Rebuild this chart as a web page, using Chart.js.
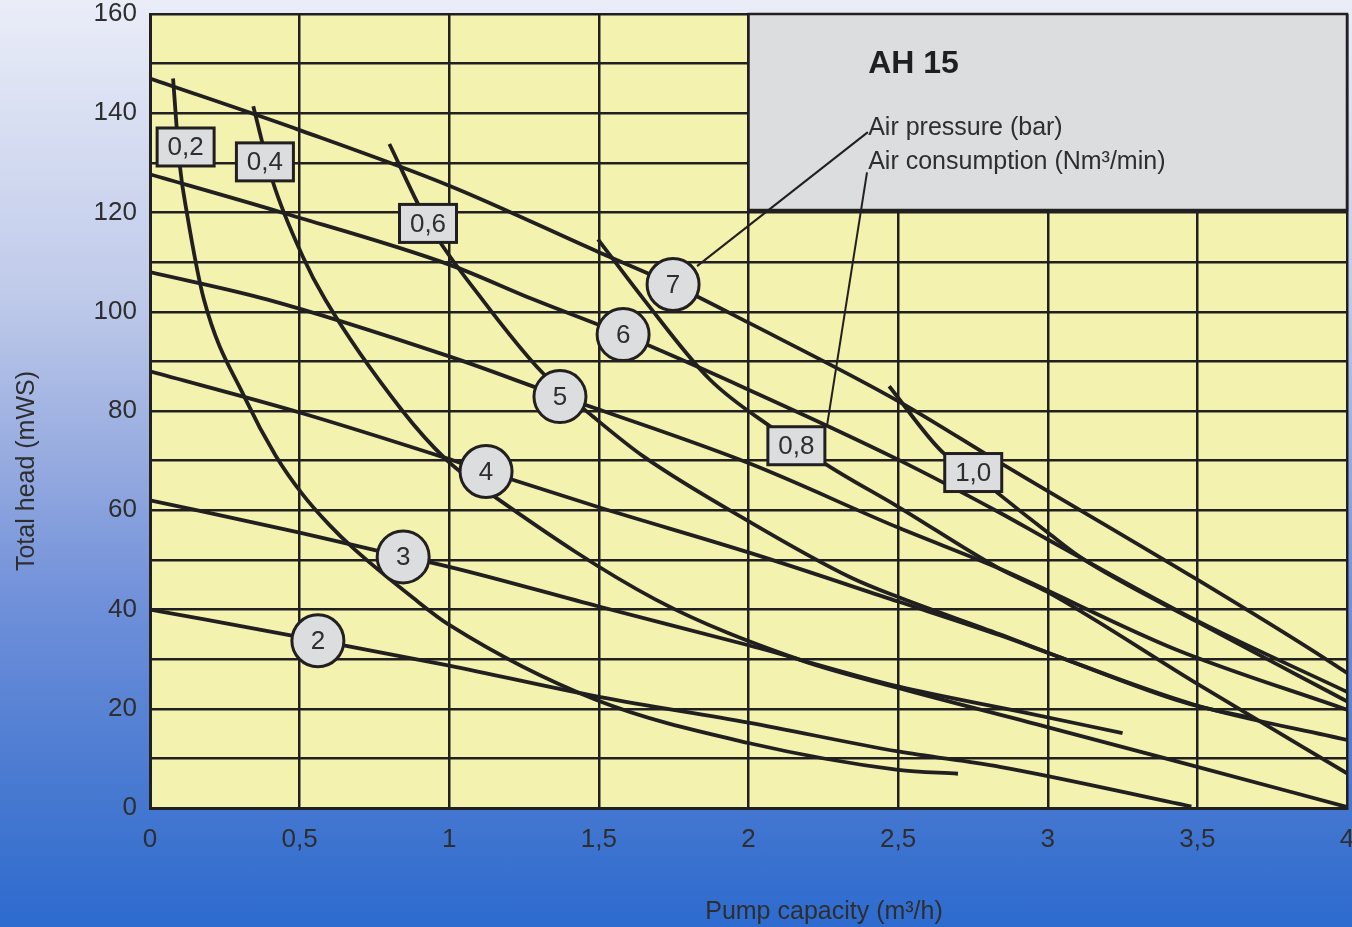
<!DOCTYPE html>
<html>
<head>
<meta charset="utf-8">
<title>AH 15 pump curves</title>
<script src="https://cdn.jsdelivr.net/npm/chart.js@4.4.0/dist/chart.umd.min.js"></script>
<style>
  html, body { margin: 0; padding: 0; }
  body {
    width: 1352px; height: 927px; overflow: hidden;
    background: linear-gradient(to bottom, #eaedf8 0%, #bfcaea 32%, #95aadf 50%, #7090da 65%, #4477d0 87%, #2d6bcf 100%);
  }
  .wrap { position: relative; width: 1352px; height: 927px; }
</style>
</head>
<body>
<div class="wrap"><canvas id="pumpChart"></canvas></div>
<script>
// pressure lines (bar) - pump capacity m3/h vs total head mWS
const p2X = [0, 0.56, 1.0, 1.5, 2.0, 2.5, 2.84, 3.48];
const p2Y = [40, 33.8, 28.7, 22.4, 17.2, 11.4, 8.3, 0.3];
const p3X = [0, 0.5, 0.84, 1.0, 1.5, 2.0, 2.5, 2.9, 3.25];
const p3Y = [62, 55.5, 50.7, 48.6, 40.6, 32.8, 24.5, 19.5, 15.1];
const p4X = [0, 0.5, 1.0, 1.12, 1.5, 2.0, 2.5, 2.84, 3.0, 3.46, 3.69];
const p4Y = [88, 79.7, 70.3, 67.9, 60.6, 51.5, 41.6, 34.8, 31.3, 21.2, 18];
const p5X = [0, 0.39, 1.0, 1.37, 1.5, 2.0, 2.5, 2.84, 3.43, 4];
const p5Y = [108, 102.5, 91, 83, 80.3, 69.5, 56.5, 48.2, 31.9, 19.8];
const p6X = [0, 0.44, 1.0, 1.28, 1.58, 2.0, 2.5, 2.84, 3.0, 3.5, 4];
const p6Y = [127.7, 120, 109.5, 102.5, 95.4, 84.3, 70.2, 59.5, 54.1, 37.7, 23.4];
const p7X = [0, 0.5, 1.0, 1.5, 1.75, 2.0, 2.5, 2.84, 3.5, 3.88, 4];
const p7Y = [147, 136.6, 125.4, 112, 105.4, 97.8, 82, 69.6, 46, 31.9, 27.2];

// air consumption lines (Nm3/min)
const c02X = [0.077, 0.1, 0.123, 0.18, 0.32, 0.42, 0.51, 0.6, 0.68, 0.88, 1.0, 1.49, 2.0, 2.5, 2.7];
const c02Y = [147, 129.3, 120, 102.5, 82.3, 71, 63.2, 57, 52.3, 42.3, 36.9, 21.8, 13.1, 7.7, 6.9];
const c04X = [0.345, 0.41, 0.51, 0.585, 0.84, 0.99, 1.15, 1.69, 2.17, 2.5, 2.98, 3.45, 4];
const c04Y = [141.4, 126.3, 111.2, 102.5, 80.3, 70.2, 62.8, 42, 29.9, 24.2, 16.6, 9.1, 0.2];
const c06X = [0.8, 0.93, 1.11, 1.31, 1.48, 1.65, 2.0, 2.34, 2.5, 2.84, 3.0, 3.49, 4];
const c06Y = [133.8, 117.8, 102.5, 87.8, 78.9, 70.8, 57.8, 46.5, 42.5, 35, 31.3, 20.8, 13.7];
const c08X = [1.497, 1.65, 1.87, 2.07, 2.16, 2.25, 2.5, 2.84, 3.0, 3.5, 4];
const c08Y = [114.6, 102.5, 86.4, 77, 73.5, 69.6, 60.7, 48.2, 43.5, 25, 7];
const c10X = [2.47, 2.65, 2.75, 2.83, 3.0, 3.11, 3.5, 4];
const c10Y = [85, 71.6, 67.6, 63.6, 55.5, 50.5, 37.5, 21.5];

// labels on the curves
const pressureLabels = ['2', '3', '4', '5', '6', '7'];
const pressureLabelX = [0.561, 0.846, 1.123, 1.37, 1.581, 1.748];
const pressureLabelY = [33.7, 50.6, 67.8, 82.9, 95.4, 105.5];
const airLabels = ['0,2', '0,4', '0,6', '0,8', '1,0'];
const airLabelX = [0.119, 0.384, 0.929, 2.16, 2.751];
const airLabelY = [133.2, 130.2, 117.8, 73.0, 67.6];

// leader lines from the key text to the labels
const leadPressureX = [1.828, 2.399];
const leadPressureY = [109.2, 136.2];
const leadAirX = [2.262, 2.396];
const leadAirY = [76.9, 128.1];

const xTicks = [0, 0.5, 1, 1.5, 2, 2.5, 3, 3.5, 4];
const yTickStep = 20;

const INK = '#221f20';
const TEXT = '#2e2e2e';
const CHIP = '#dcdddf';
const FONT = '"Liberation Sans", Arial, sans-serif';

const toPoints = (xs, ys) => xs.map((x, i) => ({ x, y: ys[i] }));

const curveSets = [
  [p2X, p2Y], [p3X, p3Y], [p4X, p4Y], [p5X, p5Y], [p6X, p6Y], [p7X, p7Y],
  [c02X, c02Y], [c04X, c04Y], [c06X, c06Y], [c08X, c08Y], [c10X, c10Y],
];

const datasets = curveSets.map(([xs, ys]) => ({
  type: 'line',
  data: toPoints(xs, ys),
  borderColor: INK,
  borderWidth: 3.8,
  pointRadius: 0,
  cubicInterpolationMode: 'monotone',
  fill: false,
}));

[[leadPressureX, leadPressureY], [leadAirX, leadAirY]].forEach(([xs, ys]) => {
  datasets.push({
    type: 'line',
    data: toPoints(xs, ys),
    borderColor: INK,
    borderWidth: 2,
    pointRadius: 0,
    tension: 0,
    fill: false,
  });
});

// keep the plot box where the reference has it, tick labels may overhang
const noOverhang = (s) => {
  s.paddingLeft = 0;
  s.paddingRight = 0;
  s.paddingTop = 0;
  s.paddingBottom = 0;
};

const chartDecor = {
  id: 'chartDecor',
  beforeDraw(chart) {
    const { ctx, chartArea: a } = chart;
    ctx.save();
    ctx.fillStyle = '#f3f2ae';
    ctx.fillRect(a.left, a.top, a.right - a.left, a.bottom - a.top);
    ctx.restore();
  },
  beforeDatasetsDraw(chart) {
    const { ctx, scales: { x, y } } = chart;
    const l = x.getPixelForValue(2), r = x.getPixelForValue(4);
    const t = y.getPixelForValue(160), b = y.getPixelForValue(120.5);
    ctx.save();
    ctx.fillStyle = CHIP;
    ctx.fillRect(l, t, r - l, b - t);
    ctx.strokeStyle = INK;
    ctx.lineWidth = 2.5;
    ctx.strokeRect(l, t, r - l, b - t);

    const tx = x.getPixelForValue(2.4);
    ctx.fillStyle = '#1f1f1f';
    ctx.textAlign = 'left';
    ctx.textBaseline = 'alphabetic';
    ctx.font = `bold 32px ${FONT}`;
    ctx.fillText('AH 15', tx, y.getPixelForValue(148.1));
    ctx.fillStyle = TEXT;
    ctx.font = `25px ${FONT}`;
    ctx.fillText('Air pressure (bar)', tx, y.getPixelForValue(135.6));
    ctx.fillText('Air consumption (Nm³/min)', tx, y.getPixelForValue(128.8));
    ctx.restore();
  },
  afterDatasetsDraw(chart) {
    const { ctx, scales: { x, y } } = chart;
    ctx.save();
    ctx.textAlign = 'center';
    ctx.textBaseline = 'middle';
    ctx.font = `26px ${FONT}`;
    ctx.strokeStyle = INK;
    ctx.lineWidth = 3;

    // round chips: air pressure
    pressureLabels.forEach((txt, i) => {
      const cx = x.getPixelForValue(pressureLabelX[i]);
      const cy = y.getPixelForValue(pressureLabelY[i]);
      ctx.beginPath();
      ctx.arc(cx, cy, 26, 0, Math.PI * 2);
      ctx.fillStyle = CHIP;
      ctx.fill();
      ctx.stroke();
      ctx.fillStyle = TEXT;
      ctx.fillText(txt, cx, cy + 1);
    });

    // square chips: air consumption
    airLabels.forEach((txt, i) => {
      const cx = x.getPixelForValue(airLabelX[i]);
      const cy = y.getPixelForValue(airLabelY[i]);
      ctx.fillStyle = CHIP;
      ctx.fillRect(cx - 28.5, cy - 19, 57, 38);
      ctx.strokeRect(cx - 28.5, cy - 19, 57, 38);
      ctx.fillStyle = TEXT;
      ctx.fillText(txt, cx, cy + 1);
    });
    ctx.restore();
  },
  afterDraw(chart) {
    const { ctx } = chart;
    ctx.save();
    ctx.fillStyle = TEXT;
    ctx.font = `25px ${FONT}`;
    ctx.textAlign = 'center';
    ctx.textBaseline = 'middle';
    ctx.fillText('Pump capacity (m³/h)', 824, 912);
    ctx.translate(27, 471);
    ctx.rotate(-Math.PI / 2);
    ctx.fillText('Total head (mWS)', 0, 0);
    ctx.restore();
  },
};

new Chart(document.getElementById('pumpChart'), {
  data: { datasets },
  options: {
    responsive: true,
    maintainAspectRatio: false,
    animation: false,
    events: [],
    layout: { padding: { top: 14, right: 5, left: 0, bottom: 0 } },
    plugins: { legend: { display: false }, tooltip: { enabled: false } },
    scales: {
      x: {
        type: 'linear',
        min: 0,
        max: 4,
        afterFit: (s) => { s.height = 119; noOverhang(s); },
        afterBuildTicks: (s) => { s.ticks = xTicks.map((v) => ({ value: v })); },
        ticks: {
          autoSkip: false,
          maxRotation: 0,
          padding: 16,
          color: TEXT,
          font: { family: FONT, size: 26 },
          callback: (v) => String(v).replace('.', ','),
        },
        grid: { color: INK, lineWidth: 2.5, drawTicks: false },
        border: { display: true, color: INK, width: 3 },
      },
      y: {
        type: 'linear',
        min: 0,
        max: 160,
        afterFit: (s) => { s.width = 150; noOverhang(s); },
        ticks: {
          stepSize: 10,
          autoSkip: false,
          padding: 13,
          color: TEXT,
          font: { family: FONT, size: 26 },
          callback: (v) => (v % yTickStep === 0 ? v : ''),
        },
        grid: { color: INK, lineWidth: 2.5, drawTicks: false },
        border: { display: true, color: INK, width: 3 },
      },
    },
  },
  plugins: [chartDecor],
});
</script>
</body>
</html>
